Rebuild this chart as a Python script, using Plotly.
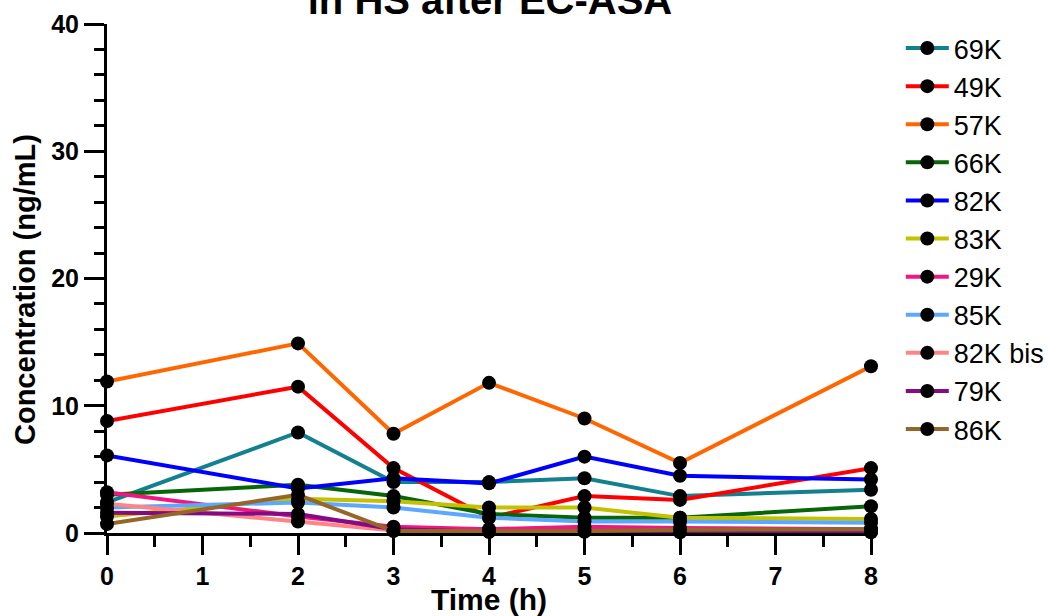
import plotly.graph_objects as go

# Sampling times (h)
times = [0, 2, 3, 4, 5, 6, 8]

# Subjects, in legend order
subjects = ["69K", "49K", "57K", "66K", "82K", "83K", "29K", "85K", "82K bis", "79K", "86K"]

# Concentrations (ng/mL) per subject at each sampling time
conc_69K = [2.4, 7.9, 4.0, 4.0, 4.3, 2.9, 3.4]
conc_49K = [8.8, 11.5, 5.1, 1.2, 2.9, 2.6, 5.1]
conc_57K = [11.9, 14.9, 7.8, 11.8, 9.0, 5.5, 13.1]
conc_66K = [3.0, 3.8, 2.9, 1.5, 1.2, 1.2, 2.1]
conc_82K = [6.1, 3.5, 4.3, 3.9, 6.0, 4.5, 4.2]
conc_83K = [1.3, 2.7, 2.5, 2.0, 2.0, 1.2, 1.1]
conc_29K = [3.2, 1.3, 0.5, 0.3, 0.5, 0.4, 0.3]
conc_85K = [2.0, 2.4, 2.0, 1.2, 0.9, 0.9, 0.8]
conc_82Kbis = [2.3, 0.9, 0.2, 0.1, 0.15, 0.1, 0.1]
conc_79K = [1.6, 1.5, 0.3, 0.1, 0.1, 0.05, 0.05]
conc_86K = [0.7, 3.0, 0.15, 0.15, 0.15, 0.25, 0.3]

series = [conc_69K, conc_49K, conc_57K, conc_66K, conc_82K, conc_83K,
          conc_29K, conc_85K, conc_82Kbis, conc_79K, conc_86K]

colors = ["#12808F", "#FF0000", "#FF6600", "#086608", "#0000FF", "#C4C200",
          "#F0187F", "#5CA8FF", "#FF8585", "#850A85", "#966628"]

FONT = "Arial, Liberation Sans, sans-serif"

fig = go.Figure()
for name, vals, col in zip(subjects, series, colors):
    fig.add_trace(go.Scatter(
        x=times, y=vals, name=name, mode="lines+markers",
        line=dict(color=col, width=4),
        marker=dict(color="black", size=14),
        cliponaxis=False,
        legendgroup=name,
    ))

axis_common = dict(
    showline=True, linecolor="black", linewidth=3,
    ticks="outside", tickcolor="black", tickwidth=3,
    showgrid=False, zeroline=False, automargin=False,
    tickfont=dict(family=FONT, size=25, color="black", weight="bold"),
)

fig.update_xaxes(
    range=[0, 8], tick0=0, dtick=1, ticklen=19,
    minor=dict(dtick=0.5, ticks="outside", ticklen=11, tickwidth=3, tickcolor="black"),
    title=dict(text="<b>Time (h)</b>", font=dict(family=FONT, size=30, color="black"), standoff=5),
    **axis_common,
)
fig.update_yaxes(
    range=[0, 40], tick0=0, dtick=10, ticklen=20,
    minor=dict(dtick=2, ticks="outside", ticklen=10, tickwidth=3, tickcolor="black"),
    **axis_common,
)

# Y-axis title as a rotated annotation so it can sit slightly below the plot centre
fig.add_annotation(
    text="<b>Concentration (ng/mL)</b>", textangle=-90,
    xref="paper", yref="paper", x=(25 - 107) / 764, y=(533 - 290) / 509,
    xanchor="center", yanchor="middle", showarrow=False,
    font=dict(family=FONT, size=29, color="black"),
)

fig.update_layout(
    width=1052, height=616,
    margin=dict(l=107, r=181, t=24, b=83, autoexpand=False),
    plot_bgcolor="white", paper_bgcolor="white",
    title=dict(text="<b>in HS after EC-ASA</b>", x=(490 / 1052), xanchor="center",
               y=1.0, yref="container", yanchor="middle",
               font=dict(family=FONT, size=40, color="black")),
    legend=dict(
        x=1.039, y=1.0, xanchor="left", yanchor="top",
        font=dict(family=FONT, size=27, color="black"),
        tracegroupgap=0, itemwidth=43,
        bgcolor="rgba(0,0,0,0)",
    ),
)

fig.write_html("out.html")
